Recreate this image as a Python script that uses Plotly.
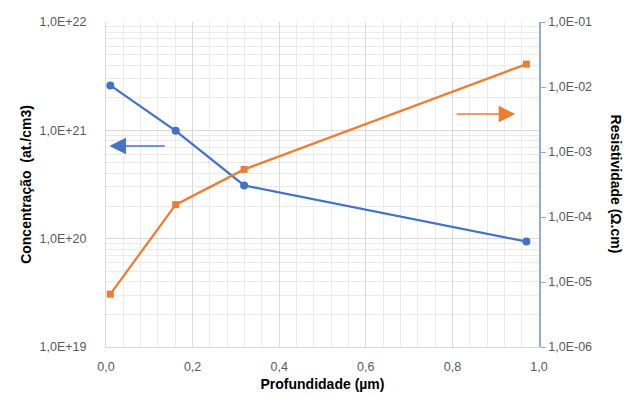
import plotly.graph_objects as go

depth = [0.01, 0.161, 0.319, 0.971]
concentration = [2.6e21, 9.9e20, 3.1e20, 9.4e19]
resistivity = [6.5e-6, 1.55e-4, 5.4e-4, 2.25e-2]

x_ticks = [0, 0.2, 0.4, 0.6, 0.8, 1.0]
x_ticktext = ["0,0", "0,2", "0,4", "0,6", "0,8", "1,0"]
left_ticks = [1e19, 1e20, 1e21, 1e22]
left_ticktext = ["1,0E+19", "1,0E+20", "1,0E+21", "1,0E+22"]
right_ticks = [1e-6, 1e-5, 1e-4, 1e-3, 1e-2, 1e-1]
right_ticktext = ["1,0E-06", "1,0E-05", "1,0E-04", "1,0E-03", "1,0E-02", "1,0E-01"]

BLUE = "#4472C4"
ORANGE = "#ED7D31"
FONT = "Liberation Sans"

fig = go.Figure()
fig.add_trace(go.Scatter(x=depth, y=concentration, mode="lines+markers",
                         line=dict(color=BLUE, width=2.25),
                         marker=dict(symbol="circle", size=8, color=BLUE),
                         yaxis="y", showlegend=False))
fig.add_trace(go.Scatter(x=depth, y=resistivity, mode="lines+markers",
                         line=dict(color=ORANGE, width=2.25),
                         marker=dict(symbol="square", size=7, color=ORANGE),
                         yaxis="y2", showlegend=False))

tickfont = dict(family=FONT, size=12.5, color="#595959")
titlefont = dict(family=FONT, size=14, color="#000000")

fig.update_layout(
    width=630, height=388,
    margin=dict(l=98, r=99, t=14, b=49),
    paper_bgcolor="white", plot_bgcolor="white",
    xaxis=dict(range=[0, 1], tickvals=x_ticks, ticktext=x_ticktext, automargin=False,
               tickfont=tickfont, showgrid=True, gridcolor="#D9D9D9", gridwidth=1,
               minor=dict(dtick=0.04, showgrid=True, gridcolor="#EBEBEB"),
               ticks="outside", ticklen=8, tickcolor="rgba(0,0,0,0)",
               zeroline=False, showline=True, linecolor="#D9D9D9",
               title=dict(text="<b>Profundidade (µm)</b>", font=titlefont, standoff=6)),
    yaxis=dict(type="log", range=[19, 22], tickvals=left_ticks, ticktext=left_ticktext,
               tickfont=tickfont, showgrid=True, gridcolor="#D9D9D9", automargin=False,
               minor=dict(dtick="D1", showgrid=True, gridcolor="#EBEBEB"),
               ticks="outside", ticklen=16, tickcolor="rgba(0,0,0,0)",
               zeroline=False, showline=True, linecolor="#D9D9D9",
               title=dict(text="<b>Concentração  (at./cm3)</b>", font=titlefont, standoff=4)),
    yaxis2=dict(type="log", range=[-6, -1], overlaying="y", side="right", automargin=False,
                tickvals=right_ticks, ticktext=right_ticktext, tickfont=tickfont,
                showgrid=False, zeroline=False, showline=True, linecolor="#8FAADC",
                linewidth=1.5, ticks="outside", ticklen=5, tickcolor="#8FAADC"),
)

fig.add_annotation(text="<b>Resistividade (Ω.cm)</b>", xref="paper", yref="paper",
                   x=1.18, y=0.5, textangle=90, showarrow=False, font=titlefont,
                   xanchor="center", yanchor="middle")

# arrows
fig.add_annotation(x=0.008, y=20.855, ax=0.139, ay=20.855, xref="x", yref="y",
                   axref="x", ayref="y", text="", showarrow=True,
                   arrowhead=2, arrowsize=2.2, arrowwidth=1.5, arrowcolor=BLUE)
fig.add_annotation(x=0.945, y=21.15, ax=0.806, ay=21.15, xref="x", yref="y",
                   axref="x", ayref="y", text="", showarrow=True,
                   arrowhead=2, arrowsize=2.2, arrowwidth=1.5, arrowcolor=ORANGE)

fig.write_html("out.html")
